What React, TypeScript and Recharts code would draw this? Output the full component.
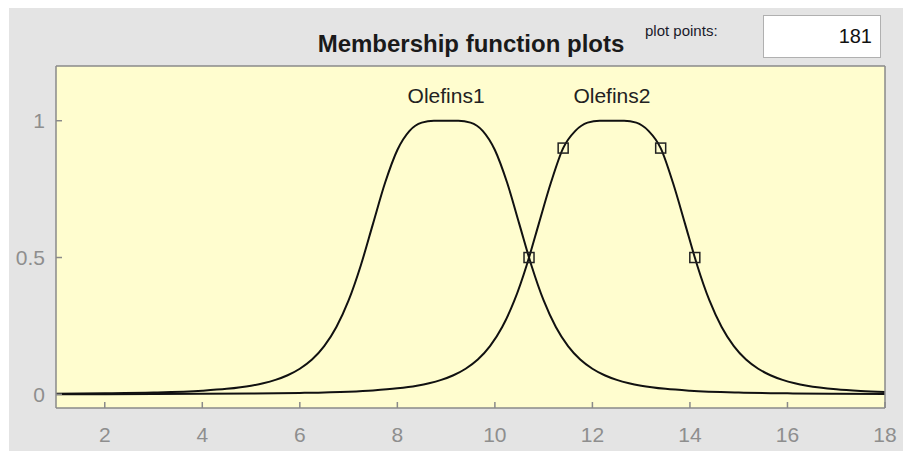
import React from "react";
import { ComposedChart, Line, XAxis, YAxis, CartesianGrid, ReferenceDot } from "recharts";

// Olefins1 membership curve (bell shape centred near x = 9)
const olefins1X = [
  1, 2, 3, 4, 4.5, 5, 5.25, 5.5, 5.75, 6, 6.25, 6.5, 6.75, 7, 7.25, 7.5, 7.75, 8, 8.25, 8.5, 8.75, 9,
  9.25, 9.5, 9.75, 10, 10.25, 10.5, 10.75, 11, 11.25, 11.5, 11.75, 12, 12.25, 12.5, 12.75, 13, 13.5,
  14, 15, 16, 17, 18,
];
const olefins1Y = [
  0.002, 0.0035, 0.0064, 0.0132, 0.02, 0.0316, 0.0405, 0.0527, 0.0696, 0.0935, 0.127, 0.176, 0.246,
  0.343, 0.471, 0.623, 0.774, 0.893, 0.963, 0.993, 1.0, 1.0, 1.0, 0.993, 0.963, 0.893, 0.774, 0.623,
  0.471, 0.343, 0.246, 0.176, 0.127, 0.0935, 0.0696, 0.0527, 0.0405, 0.0316, 0.02, 0.0132, 0.0064,
  0.0035, 0.002, 0.0013,
];

// Olefins2 membership curve (bell shape centred near x = 12.4)
const olefins2X = [
  1, 2, 3, 4, 5, 6, 7, 7.5, 8, 8.4, 8.65, 8.9, 9.15, 9.4, 9.65, 9.9, 10.15, 10.4, 10.65, 10.7, 10.9,
  11.15, 11.4, 11.65, 11.9, 12.15, 12.4, 12.65, 12.9, 13.15, 13.4, 13.65, 13.9, 14.1, 14.15, 14.4,
  14.65, 14.9, 15.15, 15.4, 15.65, 15.9, 16.15, 16.4, 17, 17.5, 18,
];
const olefins2Y = [
  0.0005, 0.0007, 0.0011, 0.0017, 0.0028, 0.005, 0.0097, 0.0143, 0.0218, 0.0316, 0.0405, 0.0527,
  0.0696, 0.0935, 0.127, 0.176, 0.246, 0.343, 0.471, 0.5, 0.623, 0.774, 0.9, 0.963, 0.993, 1.0, 1.0,
  1.0, 0.993, 0.963, 0.9, 0.774, 0.623, 0.5, 0.471, 0.343, 0.246, 0.176, 0.127, 0.0935, 0.0696,
  0.0527, 0.0405, 0.0316, 0.0183, 0.0122, 0.0084,
];

// square handles on the selected curve
const handleX = [10.7, 11.4, 13.4, 14.1];
const handleY = [0.5, 0.9, 0.9, 0.5];

const mfNames = ["Olefins1", "Olefins2"];
const mfNameX = [9, 12.4];
const mfNameY = 1.065;

const xTicks = [2, 4, 6, 8, 10, 12, 14, 16, 18];
const yTicks = [0, 0.5, 1];
const plotPoints = "181";

const olefins1 = olefins1X.map((x, i) => ({ x, y: olefins1Y[i] }));
const olefins2 = olefins2X.map((x, i) => ({ x, y: olefins2Y[i] }));
const handles = handleX.map((x, i) => ({ x, y: handleY[i] }));

const FONT = '"Liberation Sans", Arial, Helvetica, sans-serif';
const FRAME = "#8a8a8a";
const TICK_TEXT = "#8e8e8e";
const CURVE = "#111";

const BottomTick = (props: any) => {
  const { x, y, payload } = props;
  return (
    <g>
      <line x1={x} y1={y} x2={x} y2={y - 6} stroke={FRAME} strokeWidth={1.5} />
      <text x={x} y={y + 34} textAnchor="middle" fill={TICK_TEXT} fontSize={21} fontFamily={FONT}>
        {payload.value}
      </text>
    </g>
  );
};

const TopTick = (props: any) => {
  const { x, y } = props;
  return <line x1={x} y1={y} x2={x} y2={y + 6} stroke={FRAME} strokeWidth={1.5} />;
};

const LeftTick = (props: any) => {
  const { x, y, payload } = props;
  return (
    <g>
      <line x1={x} y1={y} x2={x + 6} y2={y} stroke={FRAME} strokeWidth={1.5} />
      <text x={x - 11} y={y + 7.5} textAnchor="end" fill={TICK_TEXT} fontSize={21} fontFamily={FONT}>
        {payload.value}
      </text>
    </g>
  );
};

const RightTick = (props: any) => {
  const { x, y } = props;
  return <line x1={x} y1={y} x2={x - 6} y2={y} stroke={FRAME} strokeWidth={1.5} />;
};

const Handle = (props: any) => {
  const { cx, cy, index } = props;
  if (cx == null || cy == null) return <g key={index} />;
  return (
    <rect
      key={index}
      x={cx - 5}
      y={cy - 5}
      width={10}
      height={10}
      fill="none"
      stroke="#222"
      strokeWidth={1.5}
    />
  );
};

export default function App() {
  return (
    <div style={{ position: "fixed", left: 0, top: 0, width: 903, height: 453, background: "#fff" }}>
      <div
        style={{
          position: "absolute",
          left: 9,
          top: 8,
          width: 894,
          height: 443,
          background: "#e4e4e4",
          fontFamily: FONT,
        }}
      >
        <div
          style={{
            position: "absolute",
            left: 262,
            top: 24,
            width: 400,
            textAlign: "center",
            fontSize: 24,
            lineHeight: "24px",
            fontWeight: "bold",
            color: "#1a1a1a",
            whiteSpace: "nowrap",
          }}
        >
          Membership function plots
        </div>
        <div
          style={{
            position: "absolute",
            left: 636,
            top: 15,
            fontSize: 15,
            lineHeight: "16px",
            color: "#1a1a2a",
            whiteSpace: "nowrap",
          }}
        >
          plot points:
        </div>
        <div
          style={{
            position: "absolute",
            left: 754,
            top: 7,
            width: 118,
            height: 43,
            boxSizing: "border-box",
            border: "1px solid #b0b0b0",
            background: "#fff",
            textAlign: "right",
            paddingRight: 8,
            fontSize: 20,
            lineHeight: "41px",
            color: "#111",
          }}
        >
          {plotPoints}
        </div>

        <ComposedChart width={894} height={443} margin={{ top: 53, right: 13, bottom: 13, left: 7 }}>
          <CartesianGrid horizontal={false} vertical={false} fill="#fffdcf" stroke="none" />
          <XAxis
            dataKey="x"
            type="number"
            domain={[1, 18]}
            ticks={xTicks}
            height={30}
            tickSize={0}
            tickMargin={0}
            tickLine={false}
            axisLine={{ stroke: FRAME, strokeWidth: 1.5 }}
            tick={BottomTick}
            interval={0}
          />
          <XAxis
            xAxisId="top"
            orientation="top"
            type="number"
            domain={[1, 18]}
            ticks={xTicks}
            height={5}
            tickSize={0}
            tickMargin={0}
            tickLine={false}
            axisLine={{ stroke: FRAME, strokeWidth: 1.5 }}
            tick={TopTick}
            interval={0}
          />
          <YAxis
            type="number"
            domain={[-0.05, 1.2]}
            ticks={yTicks}
            width={40}
            tickSize={0}
            tickMargin={0}
            tickLine={false}
            axisLine={{ stroke: FRAME, strokeWidth: 1.5 }}
            tick={LeftTick}
            interval={0}
          />
          <YAxis
            yAxisId="right"
            orientation="right"
            type="number"
            domain={[-0.05, 1.2]}
            ticks={yTicks}
            width={5}
            tickSize={0}
            tickMargin={0}
            tickLine={false}
            axisLine={{ stroke: FRAME, strokeWidth: 1.5 }}
            tick={RightTick}
            interval={0}
          />

          <Line
            data={olefins1}
            dataKey="y"
            type="monotone"
            stroke={CURVE}
            strokeWidth={2}
            dot={false}
            isAnimationActive={false}
          />
          <Line
            data={olefins2}
            dataKey="y"
            type="monotone"
            stroke={CURVE}
            strokeWidth={2}
            dot={false}
            isAnimationActive={false}
          />
          <Line
            data={handles}
            dataKey="y"
            stroke="none"
            dot={Handle}
            activeDot={false}
            isAnimationActive={false}
          />

          {mfNames.map((name, i) => (
            <ReferenceDot
              key={name}
              x={mfNameX[i]}
              y={mfNameY}
              r={0}
              ifOverflow="visible"
              shape={(p: any) => (
                <text x={p.cx} y={p.cy} textAnchor="middle" fontSize={21} fontFamily={FONT} fill="#222">
                  {name}
                </text>
              )}
            />
          ))}
        </ComposedChart>
      </div>
    </div>
  );
}
